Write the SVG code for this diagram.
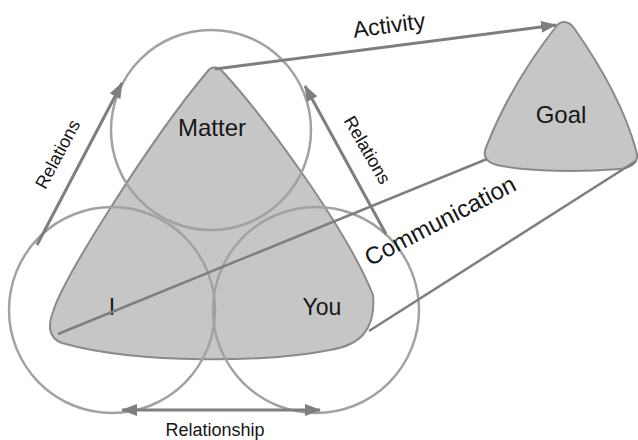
<svg xmlns="http://www.w3.org/2000/svg" width="638" height="440" viewBox="0 0 638 440">
<style>
.shape{fill:#c6c6c6;stroke:#8a8a8a;stroke-width:2}
.ring{fill:none;stroke:#a2a2a2;stroke-width:2.5}
.con{fill:none;stroke:#7e7e7e;stroke-width:3}
.lbl{font-family:"Liberation Sans",Arial,sans-serif;fill:#161616}
.big{font-size:23px}
.small{font-size:18px}
</style>
<defs>
<marker id="ah" viewBox="0 0 16 12" refX="15" refY="6" markerWidth="16" markerHeight="12" markerUnits="userSpaceOnUse" orient="auto-start-reverse">
<path d="M0,0 L16,6 L0,12 Z" fill="#7e7e7e"/>
</marker>
</defs>
<rect width="638" height="440" fill="#ffffff"/>
<g id="triad">
<path class="shape" d="M207,72 C211,66 218,66 223,72 C260,112 345,225 373,295 C376,330 360,345 330,350 C270,362 140,365 62,343 C48,338 48,325 53,312 C62,280 150,140 207,72 Z"/>
</g>
<g id="node-matter">
<circle class="ring" cx="211" cy="130" r="100"/>
<text class="lbl big" x="212" y="136" text-anchor="middle" style="font-size:24px">Matter</text>
</g>
<g id="node-i">
<circle class="ring" cx="112" cy="310" r="103"/>
<text class="lbl big" x="112" y="315" text-anchor="middle">I</text>
</g>
<g id="node-you">
<circle class="ring" cx="316" cy="310" r="103"/>
<text class="lbl big" x="322" y="315" text-anchor="middle">You</text>
</g>
<g id="node-goal">
<path class="shape" d="M555,28 C560,20 568,20 574,28 C600,65 625,110 636,150 C640,162 632,168 620,169 C580,172 530,172 497,165 C485,162 482,155 487,145 C505,100 530,60 555,28 Z"/>
<text class="lbl big" x="561" y="123" text-anchor="middle" style="font-size:24px">Goal</text>
</g>
<g id="connectors">
<line class="con" x1="215" y1="69" x2="556" y2="25" marker-end="url(#ah)"/>
<line class="con" x1="37" y1="245" x2="122" y2="83" marker-end="url(#ah)"/>
<line class="con" x1="386" y1="234" x2="305" y2="86" marker-end="url(#ah)"/>
<line class="con" x1="122" y1="410" x2="320" y2="410" marker-start="url(#ah)" marker-end="url(#ah)"/>
<line class="con" style="stroke-width:2.5" x1="58" y1="334" x2="487" y2="159"/>
<line class="con" style="stroke-width:2.5" x1="369" y1="331" x2="636" y2="161"/>
<text class="lbl big" x="390" y="33" text-anchor="middle" transform="rotate(-7.5 390 33)">Activity</text>
<text class="lbl small" x="63" y="157" text-anchor="middle" transform="rotate(-62 63 157)">Relations</text>
<text class="lbl small" x="362" y="153" text-anchor="middle" transform="rotate(60 362 153)">Relations</text>
<text class="lbl big" x="444" y="228" text-anchor="middle" transform="rotate(-27.5 444 228)" style="font-size:24px">Communication</text>
<text class="lbl small" x="215" y="436" text-anchor="middle">Relationship</text>
</g>
</svg>
